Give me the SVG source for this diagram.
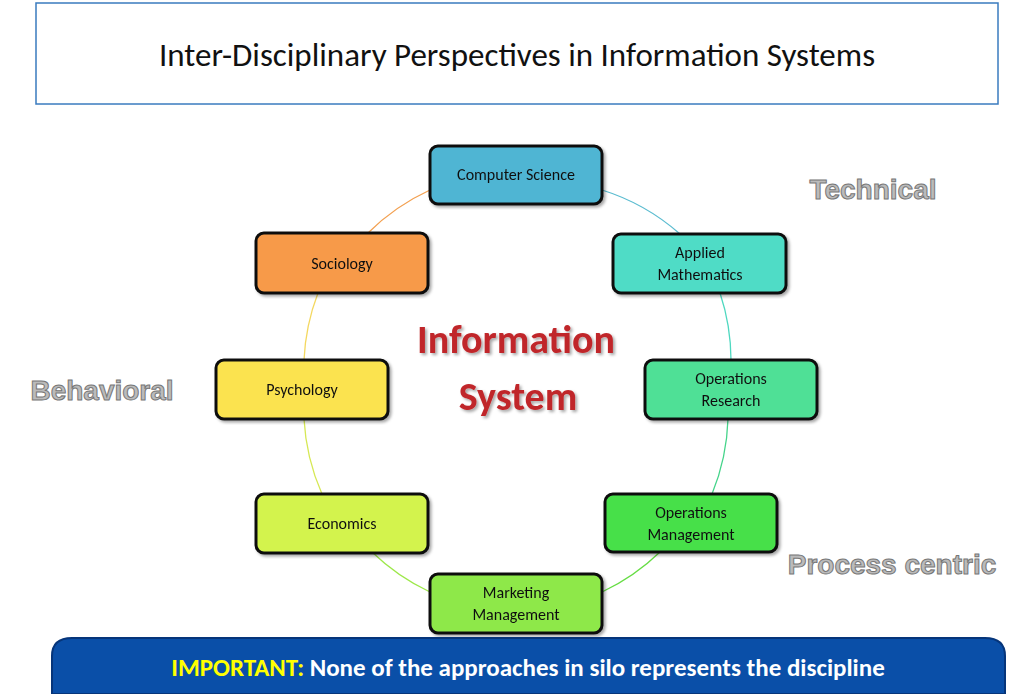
<svg xmlns="http://www.w3.org/2000/svg" width="1024" height="694" viewBox="0 0 1024 694">
<style>
.n rect{stroke:#111;stroke-width:3}
.n text{font-family:Calibri,"Liberation Sans",sans-serif;font-size:16px;fill:#111;text-anchor:middle}
.lbl{font-family:"Liberation Sans",sans-serif;font-weight:bold;font-size:28px;fill:#bbb;stroke:#777;stroke-width:1}
</style>
<defs>
<filter id="sh"><feDropShadow dx="2" dy="2" stdDeviation="1.5" flood-opacity="0.35"/></filter>
</defs>
<rect width="1024" height="694" fill="#fff"/>
<rect x="36" y="3" width="962" height="101" fill="#fff" stroke="#3a7bbf" stroke-width="1.5"/>
<text x="517" y="66" text-anchor="middle" font-family="Calibri,'Liberation Sans',sans-serif" font-size="33" fill="#111">Inter-Disciplinary Perspectives in Information Systems</text>
<g id="connectors" fill="none" stroke-width="1.3">
<path d="M602 190 A214 214 0 0 1 680 234" stroke="#5bbcd0"/>
<path d="M720 293 A214 214 0 0 1 731 360" stroke="#4fd8c0"/>
<path d="M728 419 A214 214 0 0 1 712 494" stroke="#45d48a"/>
<path d="M660 552 A214 214 0 0 1 602 592" stroke="#66dd44"/>
<path d="M430 592 A214 214 0 0 1 372 552" stroke="#9de84a"/>
<path d="M322 494 A214 214 0 0 1 304 419" stroke="#d6e854"/>
<path d="M304 360 A214 214 0 0 1 318 293" stroke="#f4d860"/>
<path d="M368 233 A214 214 0 0 1 430 190" stroke="#f3a050"/>
</g>
<g id="cs" class="n" filter="url(#sh)"><rect x="430" y="146" width="172" height="58" rx="8" fill="#4fb5d3"/><text x="516" y="180">Computer Science</text></g>
<g id="am" class="n" filter="url(#sh)"><rect x="613" y="234" width="173" height="59" rx="8" fill="#4fdcc6"/><text x="700" y="258">Applied</text><text x="700" y="280">Mathematics</text></g>
<g id="or" class="n" filter="url(#sh)"><rect x="645" y="360" width="172" height="59" rx="8" fill="#4fe096"/><text x="731" y="384">Operations</text><text x="731" y="406">Research</text></g>
<g id="om" class="n" filter="url(#sh)"><rect x="605" y="494" width="172" height="58" rx="8" fill="#47e04a"/><text x="691" y="518">Operations</text><text x="691" y="540">Management</text></g>
<g id="mm" class="n" filter="url(#sh)"><rect x="430" y="574" width="172" height="59" rx="8" fill="#8ee84a"/><text x="516" y="598">Marketing</text><text x="516" y="620">Management</text></g>
<g id="ec" class="n" filter="url(#sh)"><rect x="256" y="494" width="172" height="59" rx="8" fill="#d3f34e"/><text x="342" y="529">Economics</text></g>
<g id="ps" class="n" filter="url(#sh)"><rect x="216" y="360" width="172" height="59" rx="8" fill="#fbe34f"/><text x="302" y="395">Psychology</text></g>
<g id="so" class="n" filter="url(#sh)"><rect x="256" y="233" width="172" height="60" rx="8" fill="#f79a48"/><text x="342" y="269">Sociology</text></g>
<g id="center" font-family="Calibri,'Liberation Sans',sans-serif" font-weight="bold" font-size="40" fill="#c0262a" text-anchor="middle" filter="url(#sh)">
<text x="516" y="353">Information</text><text x="518" y="410">System</text></g>
<text class="lbl" x="873" y="199" text-anchor="middle">Technical</text>
<text class="lbl" x="102" y="400" text-anchor="middle">Behavioral</text>
<text class="lbl" x="892" y="574" text-anchor="middle">Process centric</text>
<g id="banner">
<path d="M52 694 V656 Q52 638 72 638 H985 Q1005 638 1005 656 V694 Z" fill="#0a4fa8" stroke="#06357a" stroke-width="2"/>
<text x="528" y="676" text-anchor="middle" font-family="Calibri,'Liberation Sans',sans-serif" font-weight="bold" font-size="25" fill="#fff"><tspan fill="#ffff00">IMPORTANT:</tspan> None of the approaches in silo represents the discipline</text>
</g>
</svg>
